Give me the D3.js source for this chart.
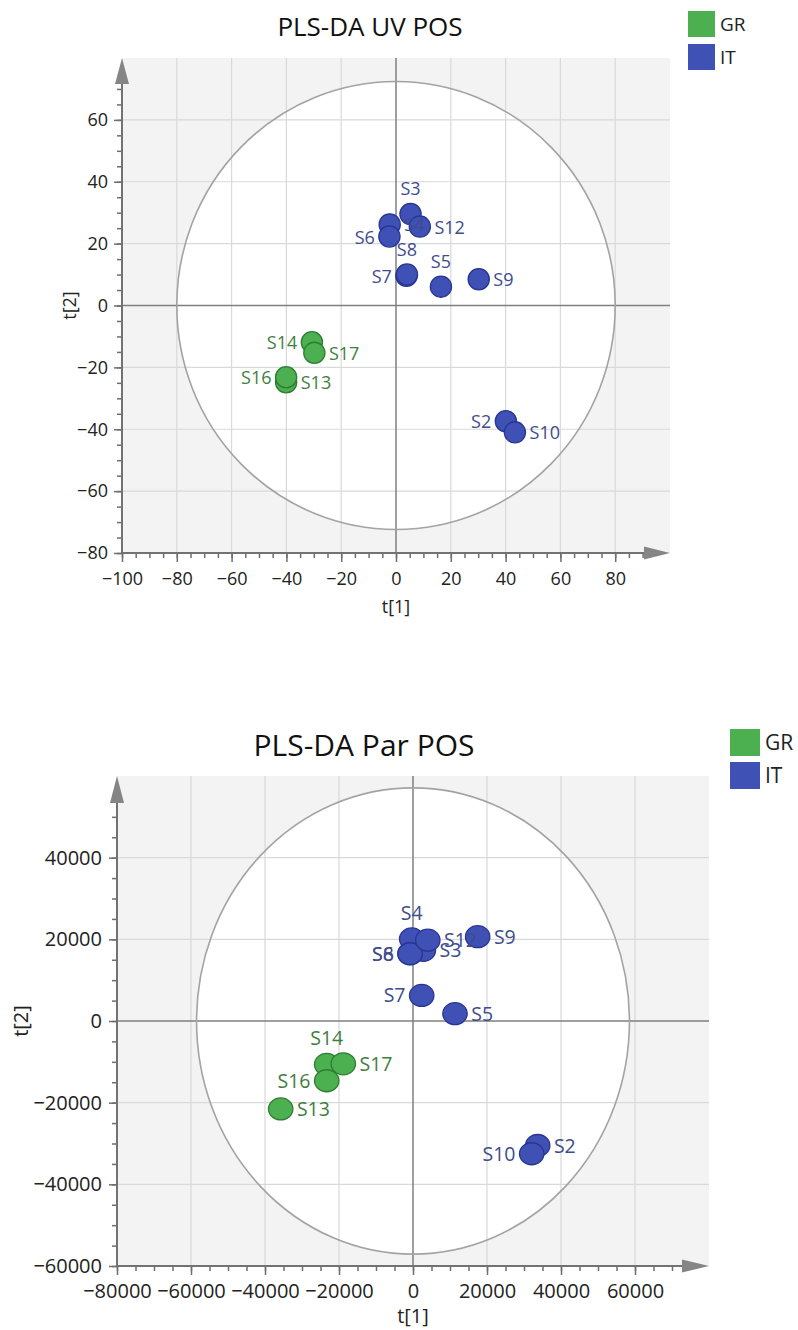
<!DOCTYPE html>
<html>
<head>
<meta charset="utf-8">
<script src="https://cdn.jsdelivr.net/npm/d3@7"></script>
<style>
  html, body { margin: 0; padding: 0; background: #fff; }
  svg { display: block; font-family: "Open Sans", "Noto Sans", sans-serif; }
</style>
</head>
<body>
<svg id="chart" width="798" height="1330"></svg>
<script>
// ---------- DATA ----------
const groups = ["GR", "IT"];

// Chart 1: PLS-DA UV POS
const uvSamples = ["S2", "S3", "S4", "S5", "S6", "S7", "S8", "S9", "S10", "S12", "S13", "S14", "S16", "S17"];
const uvGroup   = ["IT", "IT", "IT", "IT", "IT", "IT", "IT", "IT", "IT", "IT", "GR", "GR", "GR", "GR"];
const uvT1      = [40.1, 5.3, -2.3, 16.4, -2.4, 3.8, 4.0, 30.2, 43.4, 8.7, -40.1, -30.7, -40.1, -29.8];
const uvT2      = [-37.4, 29.6, 26.2, 6.1, 22.3, 9.6, 10.0, 8.5, -41.0, 25.5, -24.8, -11.9, -23.2, -15.3];
const uvLabelSide = ["l", "t", "r", "t", "l", "l", "t", "r", "r", "r", "r", "l", "l", "r"];
const uvXTicks = [-100, -80, -60, -40, -20, 0, 20, 40, 60, 80];
const uvYTicks = [-80, -60, -40, -20, 0, 20, 40, 60];
const uvEllipse = [80, 72.4];

// Chart 2: PLS-DA Par POS
const parSamples = ["S2", "S3", "S4", "S5", "S6", "S7", "S8", "S9", "S10", "S12", "S13", "S14", "S16", "S17"];
const parGroup   = ["IT", "IT", "IT", "IT", "IT", "IT", "IT", "IT", "IT", "IT", "GR", "GR", "GR", "GR"];
const parT1      = [33700, 2800, -350, 11350, -800, 2350, -800, 17480, 32080, 4000, -35760, -23320, -23320, -18840];
const parT2      = [-30490, 17300, 20100, 1800, 16500, 6270, 16450, 20660, -32510, 19800, -21540, -10630, -14630, -10490];
const parLabelSide = ["r", "r", "t", "r", "l", "l", "l", "r", "l", "r", "r", "t", "l", "r"];
const parXTicks = [-80000, -60000, -40000, -20000, 0, 20000, 40000, 60000];
const parYTicks = [-60000, -40000, -20000, 0, 20000, 40000];
const parEllipse = [58500, 57100];

// ---------- STYLE ----------
const colors = { GR: "#4caf50", IT: "#3f51b5" };
const strokes = { GR: "#2e7d32", IT: "#283593" };
const labelColors = { GR: "#3f7e3f", IT: "#3e4b8e" };

const svg = d3.select("#chart");

function drawChart(cfg) {
  const g = svg.append("g");
  const x = d3.scaleLinear().domain(cfg.xDomain).range([cfg.left, cfg.right]);
  const y = d3.scaleLinear().domain(cfg.yDomain).range([cfg.bottom, cfg.top]);

  // background
  g.append("rect").attr("x", cfg.left).attr("y", cfg.top)
    .attr("width", cfg.right - cfg.left).attr("height", cfg.bottom - cfg.top)
    .attr("fill", "#f3f3f3");

  // ellipse fill
  g.append("ellipse").attr("cx", x(0)).attr("cy", y(0))
    .attr("rx", x(cfg.ellipse[0]) - x(0)).attr("ry", y(0) - y(cfg.ellipse[1]))
    .attr("fill", "#fff");

  // grid
  g.append("g").selectAll("line").data(cfg.xTicks.filter(v => v !== 0 && v !== cfg.xDomain[0]))
    .join("line")
    .attr("x1", d => x(d)).attr("x2", d => x(d))
    .attr("y1", cfg.top).attr("y2", cfg.bottom)
    .attr("stroke", "#d9d9d9").attr("stroke-width", 1.2);
  g.append("g").selectAll("line").data(cfg.yTicks.filter(v => v !== 0 && v !== cfg.yDomain[0]))
    .join("line")
    .attr("y1", d => y(d)).attr("y2", d => y(d))
    .attr("x1", cfg.left).attr("x2", cfg.right)
    .attr("stroke", "#d9d9d9").attr("stroke-width", 1.2);

  // zero lines
  g.append("line").attr("x1", x(0)).attr("x2", x(0)).attr("y1", cfg.top).attr("y2", cfg.bottom)
    .attr("stroke", "#7f7f7f").attr("stroke-width", 1.5);
  g.append("line").attr("y1", y(0)).attr("y2", y(0)).attr("x1", cfg.left).attr("x2", cfg.right)
    .attr("stroke", "#7f7f7f").attr("stroke-width", 1.5);

  // ellipse stroke
  g.append("ellipse").attr("cx", x(0)).attr("cy", y(0))
    .attr("rx", x(cfg.ellipse[0]) - x(0)).attr("ry", y(0) - y(cfg.ellipse[1]))
    .attr("fill", "none").attr("stroke", "#a3a3a3").attr("stroke-width", 1.6);

  // axes (ticks through d3.axis)
  const minorX = d3.range(cfg.xDomain[0], cfg.xMinorMax + 1e-9, cfg.minorStepX);
  const minorY = d3.range(cfg.yDomain[0], cfg.yMinorMax + 1e-9, cfg.minorStepY);

  const xMinorAxis = d3.axisBottom(x).tickValues(minorX).tickSize(5).tickFormat("");
  const yMinorAxis = d3.axisLeft(y).tickValues(minorY).tickSize(5).tickFormat("");
  const xAxis = d3.axisBottom(x).tickValues(cfg.xTicks).tickSize(9).tickPadding(cfg.xPad).tickFormat(d3.format("d"));
  const yAxis = d3.axisLeft(y).tickValues(cfg.yTicks).tickSize(8).tickPadding(cfg.yPad).tickFormat(d3.format("d"));

  [[xMinorAxis, "x"], [xAxis, "x"], [yMinorAxis, "y"], [yAxis, "y"]].forEach(([ax, k]) => {
    const a = g.append("g")
      .attr("transform", k === "x" ? `translate(0,${cfg.bottom})` : `translate(${cfg.left},0)`)
      .call(ax);
    a.select(".domain").remove();
    a.selectAll(".tick line").attr("stroke", "#6e6e6e").attr("stroke-width", 1.5);
    a.selectAll("text").attr("fill", "#222").style("font-size", cfg.tickFont + "px")
      .style("font-family", "'Open Sans', 'Noto Sans', sans-serif");
  });

  // axis lines and arrows
  const axColor = "#727272";
  g.append("line").attr("x1", cfg.left).attr("x2", cfg.right - cfg.arrowLen + 2)
    .attr("y1", cfg.bottom).attr("y2", cfg.bottom).attr("stroke", axColor).attr("stroke-width", 2);
  g.append("line").attr("x1", cfg.left).attr("x2", cfg.left)
    .attr("y1", cfg.bottom).attr("y2", cfg.top + cfg.arrowLen - 2).attr("stroke", axColor).attr("stroke-width", 2);
  g.append("path")
    .attr("d", `M${cfg.right - cfg.arrowLen},${cfg.bottom - 6.5}L${cfg.right},${cfg.bottom}L${cfg.right - cfg.arrowLen},${cfg.bottom + 6.5}Z`)
    .attr("fill", "#858585");
  g.append("path")
    .attr("d", `M${cfg.left - 7},${cfg.top + cfg.arrowLen}L${cfg.left},${cfg.top}L${cfg.left + 7},${cfg.top + cfg.arrowLen}Z`)
    .attr("fill", "#858585");

  // points
  const pts = cfg.names.map((n, i) => ({ name: n, grp: cfg.grp[i], t1: cfg.t1[i], t2: cfg.t2[i], side: cfg.side[i] }));
  g.append("g").selectAll("ellipse").data(pts).join("ellipse")
    .attr("cx", d => x(d.t1)).attr("cy", d => y(d.t2))
    .attr("rx", cfg.rx).attr("ry", cfg.ry)
    .attr("fill", d => colors[d.grp]).attr("stroke", d => strokes[d.grp]).attr("stroke-width", 1.3);

  // labels
  const off = cfg.rx + 4;
  g.append("g").selectAll("text").data(pts).join("text")
    .attr("x", d => x(d.t1) + (d.side === "r" ? off : d.side === "l" ? -off : 0))
    .attr("y", d => y(d.t2) + (d.side === "t" ? -(cfg.ry + 8) : 7))
    .attr("text-anchor", d => d.side === "r" ? "start" : d.side === "l" ? "end" : "middle")
    .attr("fill", d => labelColors[d.grp])
    .style("font-size", cfg.labelFont + "px")
    .text(d => d.name);

  // axis titles
  g.append("text").attr("x", x(0)).attr("y", cfg.xTitleY).attr("text-anchor", "middle")
    .style("font-size", cfg.tickFont + "px").attr("fill", "#222").text("t[1]");
  g.append("text").attr("transform", `translate(${cfg.yTitleX},${y(0)}) rotate(-90)`)
    .attr("text-anchor", "middle").style("font-size", cfg.tickFont + "px").attr("fill", "#222").text("t[2]");

  // title
  g.append("text").attr("x", cfg.titleX).attr("y", cfg.titleY).attr("text-anchor", "middle")
    .style("font-size", cfg.titleFont + "px").attr("fill", "#111").text(cfg.title);

  // legend
  const lg = g.append("g");
  lg.selectAll("rect").data(groups).join("rect")
    .attr("x", cfg.legX).attr("y", (d, i) => cfg.legY + i * cfg.legStep)
    .attr("width", cfg.legW).attr("height", cfg.legH)
    .attr("fill", d => colors[d]);
  lg.selectAll("text").data(groups).join("text")
    .attr("x", cfg.legX + cfg.legW + 5).attr("y", (d, i) => cfg.legY + i * cfg.legStep + cfg.legH * 0.77)
    .style("font-size", cfg.legFont + "px").attr("fill", "#222").text(d => d);
}

drawChart({
  title: "PLS-DA UV POS", titleX: 370, titleY: 36, titleFont: 26,
  names: uvSamples, grp: uvGroup, t1: uvT1, t2: uvT2, side: uvLabelSide,
  xDomain: [-100, 100], yDomain: [-80, 80],
  left: 122, right: 670, top: 58, bottom: 553,
  xTicks: uvXTicks, yTicks: uvYTicks, minorStepX: 5, minorStepY: 5, xMinorMax: 90, yMinorMax: 70,
  ellipse: uvEllipse, rx: 10.6, ry: 10.6,
  tickFont: 18, labelFont: 18, xPad: 10, yPad: 6,
  arrowLen: 26, xTitleY: 613, yTitleX: 76,
  legX: 688, legY: 11, legStep: 33, legW: 27, legH: 26, legFont: 19
});

drawChart({
  title: "PLS-DA Par POS", titleX: 364, titleY: 756, titleFont: 30,
  names: parSamples, grp: parGroup, t1: parT1, t2: parT2, side: parLabelSide,
  xDomain: [-80000, 80000], yDomain: [-60000, 60000],
  left: 117, right: 709, top: 776, bottom: 1266,
  xTicks: parXTicks, yTicks: parYTicks, minorStepX: 5000, minorStepY: 5000, xMinorMax: 70000, yMinorMax: 50000,
  ellipse: parEllipse, rx: 12.2, ry: 11,
  tickFont: 20, labelFont: 19.5, xPad: 9, yPad: 7,
  arrowLen: 27, xTitleY: 1323, yTitleX: 28,
  legX: 730, legY: 729, legStep: 33, legW: 30, legH: 27, legFont: 21
});
</script>
</body>
</html>
